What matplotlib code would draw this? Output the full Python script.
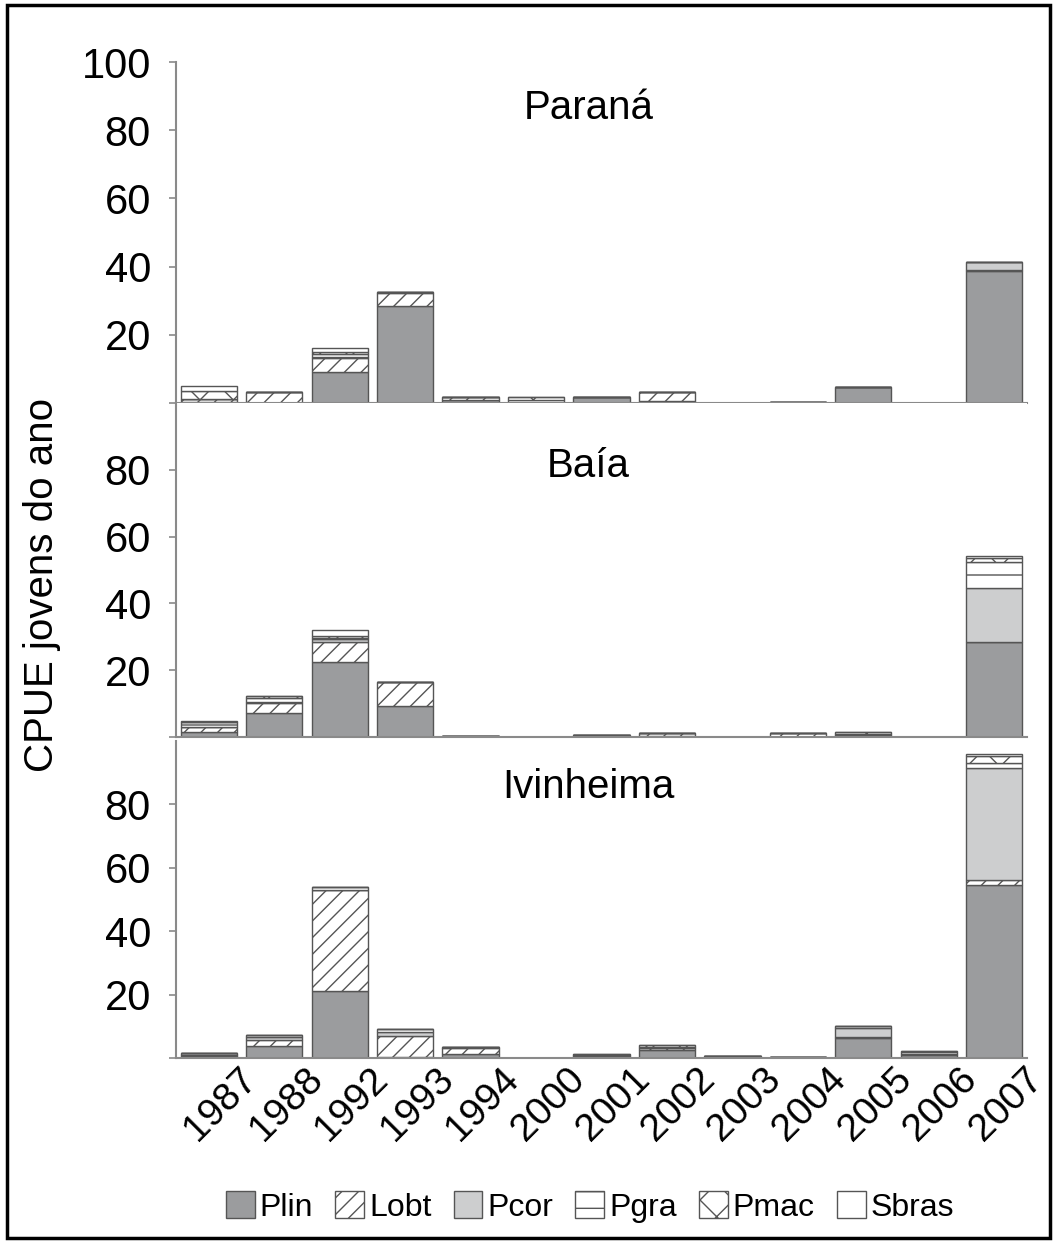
import numpy as np
import matplotlib
matplotlib.use("Agg")
from matplotlib import pyplot as plt
from matplotlib.patches import Rectangle, Patch
import matplotlib.transforms as mtransforms

plt.rcParams['font.family'] = ['Liberation Sans', 'DejaVu Sans']
plt.rcParams['hatch.linewidth'] = 1.0

## Datos
anos = ['1987', '1988', '1992', '1993', '1994', '2000', '2001', '2002',
        '2003', '2004', '2005', '2006', '2007']
especies = ['Plin', 'Lobt', 'Pcor', 'Pgra', 'Pmac', 'Sbras']

parana_plin  = [0.2, 0.1, 9.0, 28.5, 0.9, 0, 1.8, 0.5, 0, 0.2, 4.6, 0, 38.8]
parana_lobt  = [0.9, 3.2, 4.1, 3.8, 1.0, 0, 0, 2.6, 0, 0, 0, 0, 0.3]
parana_pcor  = [0, 0, 0.5, 0.2, 0, 0, 0, 0, 0, 0, 0, 0, 2.2]
parana_pgra  = [0, 0, 0.8, 0.1, 0, 0.8, 0, 0, 0, 0, 0, 0, 0]
parana_pmac  = [2.5, 0, 0.6, 0, 0, 1.0, 0, 0, 0, 0, 0, 0, 0]
parana_sbras = [1.4, 0, 1.0, 0, 0, 0, 0, 0, 0, 0, 0, 0, 0]

baia_plin  = [1.6, 7.3, 22.5, 9.4, 0.3, 0, 0.5, 0.4, 0, 0.1, 0.6, 0, 28.5]
baia_lobt  = [1.5, 3.0, 6.0, 7.0, 0, 0, 0, 0.7, 0, 1.0, 0, 0, 0]
baia_pcor  = [0, 0.3, 0.8, 0, 0, 0, 0, 0, 0, 0, 0, 0, 16.0]
baia_pgra  = [1.3, 1.0, 0.3, 0, 0, 0, 0, 0, 0, 0, 0.4, 0, 7.8]
baia_pmac  = [0, 0.8, 0.6, 0, 0, 0, 0, 0, 0, 0, 0.4, 0, 1.4]
baia_sbras = [0.5, 0, 1.8, 0, 0, 0, 0, 0, 0, 0, 0, 0, 0.6]

ivinheima_plin  = [0.6, 3.8, 21.2, 0.4, 1.2, 0, 0.6, 2.4, 0.5, 0.3, 6.2, 1.0, 54.6]
ivinheima_lobt  = [0.4, 1.9, 31.8, 6.5, 2.0, 0, 0, 0.6, 0, 0, 0.5, 0.3, 1.6]
ivinheima_pcor  = [0.5, 1.0, 0, 1.4, 0.2, 0, 0, 0, 0, 0, 2.7, 0, 35.2]
ivinheima_pgra  = [0, 0.6, 1.0, 0.8, 0, 0, 0.3, 0.5, 0, 0, 0.7, 0.5, 1.6]
ivinheima_pmac  = [0, 0, 0, 0, 0, 0, 0.3, 0.6, 0, 0, 0, 0.5, 2.3]
ivinheima_sbras = [0, 0, 0, 0, 0, 0, 0, 0, 0, 0, 0, 0, 0.6]

paineis = [
    ('Paraná', [parana_plin, parana_lobt, parana_pcor, parana_pgra, parana_pmac, parana_sbras]),
    ('Baía', [baia_plin, baia_lobt, baia_pcor, baia_pgra, baia_pmac, baia_sbras]),
    ('Ivinheima', [ivinheima_plin, ivinheima_lobt, ivinheima_pcor, ivinheima_pgra, ivinheima_pmac, ivinheima_sbras]),
]

## Estilos
cores   = ['#9b9c9e', 'white', '#cdcecf', 'white', 'white', 'white']
hachuras = [None, '//', None, '-', 'x', None]
BORDA   = '#555555'
EIXO    = '#8a8a8a'

W, H = 1055, 1241
fig = plt.figure(figsize=(W / 100, H / 100), dpi=100)

# posiciones en pixeles (arriba, abajo) de cada panel
limites = [(62, 403), (403, 737), (741, 1058)]
pos_titulo = [0.865, 0.81, 0.855]
x = np.arange(len(anos))

for i, ((nome, series), (top, bot)) in enumerate(zip(paineis, limites)):
    ax = fig.add_axes([176 / W, 1 - bot / H, (1027 - 176) / W, (bot - top) / H])
    base = np.zeros(len(anos))
    for serie, cor, hach in zip(series, cores, hachuras):
        ax.bar(x, serie, width=0.86, bottom=base, color=cor, hatch=hach,
               edgecolor=BORDA, linewidth=1.0)
        base += np.array(serie)
    ax.set_xlim(-0.5, len(anos) - 0.5)
    ax.set_ylim(0, 100)
    for s in ['top', 'right']:
        ax.spines[s].set_visible(False)
    for s in ['left', 'bottom']:
        ax.spines[s].set_color(EIXO)
        ax.spines[s].set_linewidth(1.5)
    if i == 0:
        ax.set_yticks([0, 20, 40, 60, 80, 100])
        ax.set_yticklabels(['', '20', '40', '60', '80', '100'])
    else:
        ax.set_yticks([0, 20, 40, 60, 80])
        ax.set_yticklabels(['', '20', '40', '60', '80'])
    ax.tick_params(axis='y', length=5, width=1.2, color=EIXO, pad=13, labelsize=30)
    ax.set_xticks(x)
    if i == 2:
        ax.set_xticklabels(anos, rotation=45, ha='right', va='top',
                           rotation_mode='anchor', fontsize=28)
        ax.tick_params(axis='x', length=0, pad=2)
        off = mtransforms.ScaledTranslation(0.30, 0, fig.dpi_scale_trans)
        for lab in ax.get_xticklabels():
            lab.set_transform(lab.get_transform() + off)
    else:
        ax.set_xticklabels([])
        ax.tick_params(axis='x', length=0)
    ax.text(0.485, pos_titulo[i], nome, transform=ax.transAxes,
            ha='center', va='center', fontsize=29)

fig.text(42 / W, 1 - 585 / H, 'CPUE jovens do ano', rotation=90,
         ha='center', va='center', fontsize=29)

manijas = [Patch(facecolor=c, edgecolor=BORDA, hatch=h, linewidth=1.0)
           for c, h in zip(cores, hachuras)]
fig.legend(manijas, especies, loc='center', bbox_to_anchor=(590 / W, 1 - 1207 / H),
           ncol=6, frameon=False, fontsize=23, handlelength=0.9, handleheight=0.9,
           handletextpad=0.15, columnspacing=0.7, borderaxespad=0)

# marco exterior
fig.patches.append(Rectangle((7 / W, 1 - 1238 / H), (1050 - 7) / W, (1238 - 5) / H,
                             transform=fig.transFigure, fill=False,
                             edgecolor='black', linewidth=2.5))

fig.savefig('out.png', dpi=100)
